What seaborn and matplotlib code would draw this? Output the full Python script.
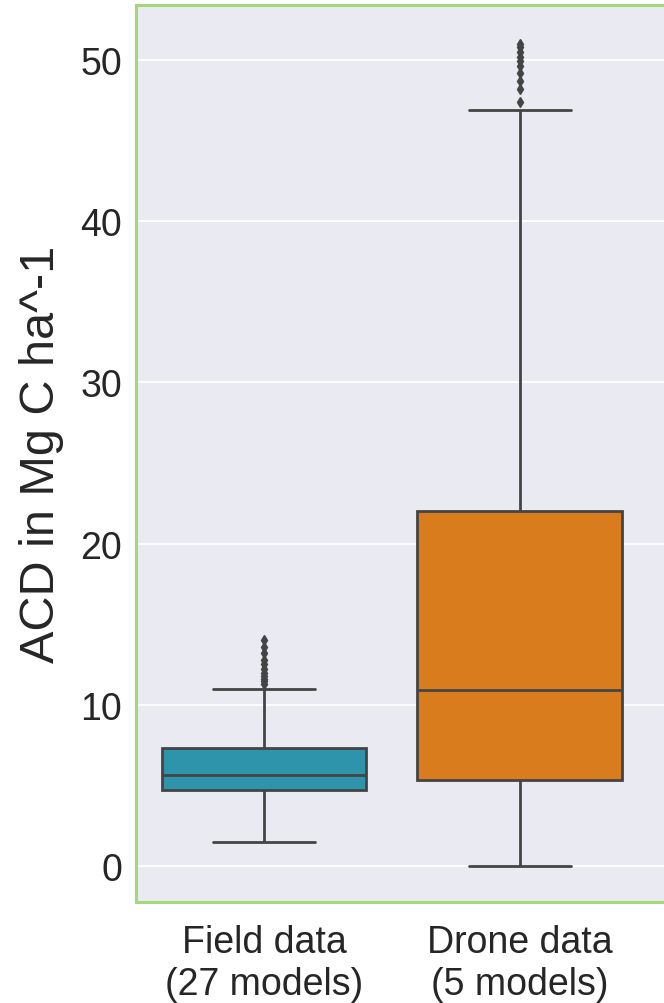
import pandas as pd
import matplotlib.pyplot as plt
import seaborn as sns

# ---- data (Mg C per ha) ----
groups = ["Field data\n(27 models)", "Drone data\n(5 models)"]

field_acd = [
    1.5, 2.2, 2.7, 3.0, 3.3, 3.6, 3.8, 4.0, 4.2, 4.35, 4.45, 4.55, 4.65,
    4.7,
    4.78, 4.86, 4.94, 5.02, 5.1, 5.18, 5.26, 5.34, 5.42, 5.5, 5.56, 5.61,
    5.65,
    5.8, 5.95, 6.1, 6.25, 6.4, 6.55, 6.7, 6.85, 7.0, 7.1, 7.2, 7.25,
    7.3,
    8.2, 11.0, 11.3, 11.45, 11.6, 11.8, 12.0, 12.2, 12.5, 12.8, 13.2, 13.6, 14.0,
]

drone_acd = [
    0.0, 0.7, 1.3, 1.9, 2.4, 2.9, 3.3, 3.7, 4.1, 4.4, 4.7, 4.95, 5.15,
    5.33,
    5.8, 6.3, 6.8, 7.3, 7.8, 8.3, 8.8, 9.3, 9.8, 10.2, 10.5, 10.7,
    10.9,
    11.8, 12.8, 13.8, 14.8, 15.8, 16.8, 17.8, 18.8, 19.8, 20.6, 21.3, 21.7,
    22.0,
    28.0, 35.0, 46.9, 47.4, 48.2, 48.7, 49.2, 49.6, 49.9, 50.2, 50.5, 50.8, 51.0,
]

colors = ["#2e94ab", "#d87c1e"]

df = pd.DataFrame({
    "source": [groups[0]] * len(field_acd) + [groups[1]] * len(drone_acd),
    "acd": field_acd + drone_acd,
})

# ---- plot ----
sns.set_theme(style="darkgrid")
plt.rcParams["font.family"] = ["Liberation Sans", "DejaVu Sans"]

fig = plt.figure(figsize=(6.64, 10.04), dpi=100)
ax = fig.add_axes([0.2048, 0.1006, 0.819, 0.8934])

sns.boxplot(
    data=df, x="source", y="acd", hue="source", order=groups,
    palette=colors, saturation=1, width=0.8, linewidth=2,
    linecolor="#444444", legend=False, ax=ax,
    flierprops=dict(marker="d", markersize=5.5, markerfacecolor="#444444",
                    markeredgecolor="#444444"),
)

ax.set_xlim(-0.5, 1.625)
ax.set_ylim(-2.23, 53.4)
ax.set_yticks([0, 10, 20, 30, 40, 50])
ax.grid(axis="x", visible=False)
ax.grid(axis="y", color="white", linewidth=1.3)

ax.set_xlabel("")
ax.set_ylabel("ACD in Mg C ha^-1", fontsize=35, color="#262626", labelpad=12)
ax.tick_params(axis="x", labelsize=27, colors="#262626", length=0, pad=16)
ax.tick_params(axis="y", labelsize=27, colors="#262626", length=0, pad=10)

for side in ["left", "top", "bottom", "right"]:
    ax.spines[side].set_visible(True)
    ax.spines[side].set_color("#a3d977")
    ax.spines[side].set_linewidth(2.2)

fig.savefig("out.png", dpi=100)
plt.close()
